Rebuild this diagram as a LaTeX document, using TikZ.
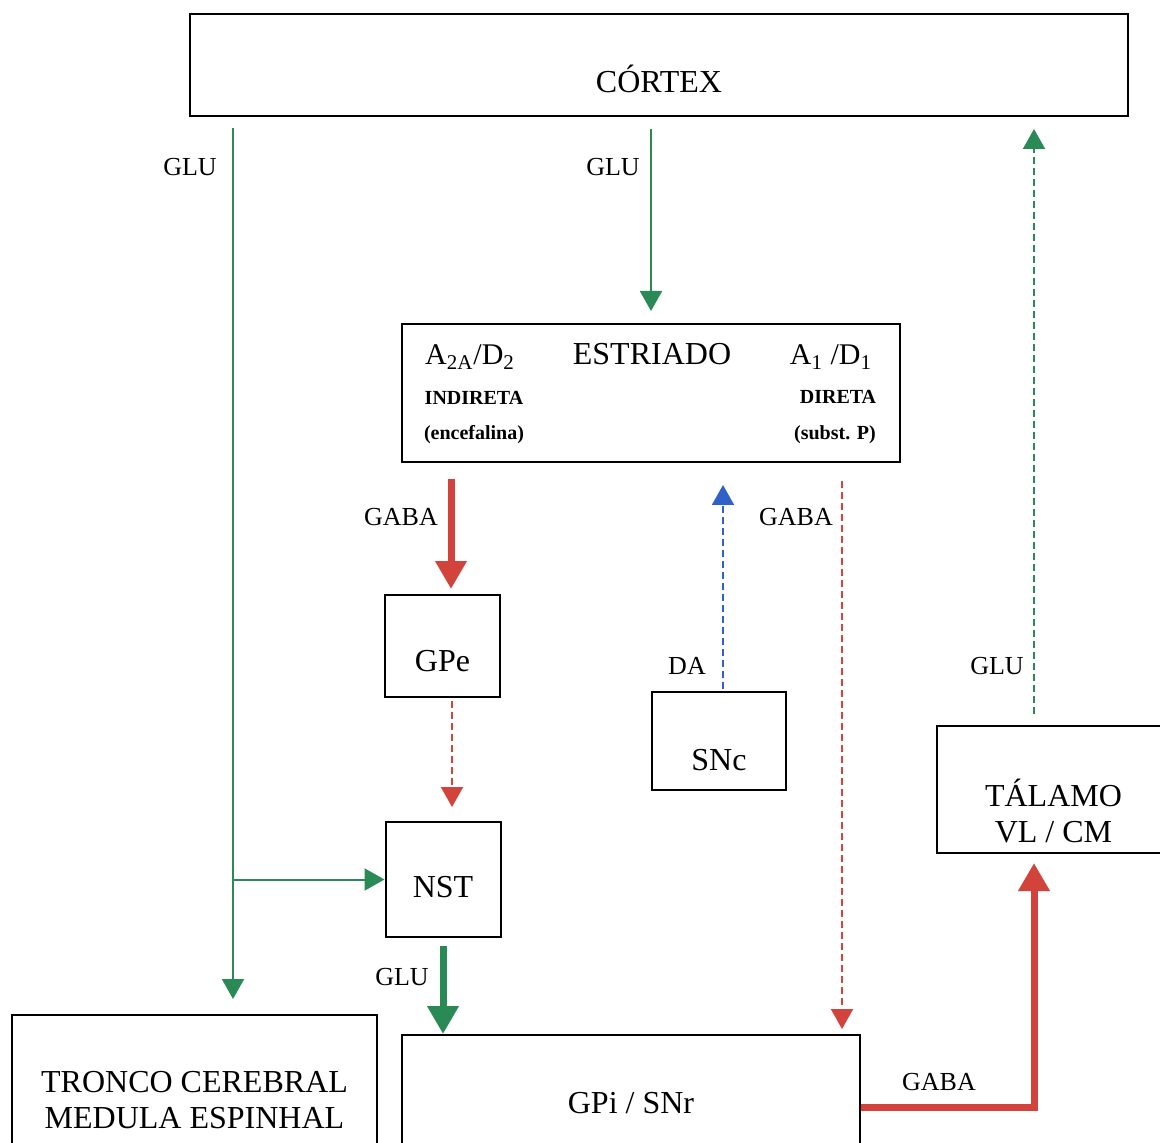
\documentclass[tikz,border=0pt]{standalone}
\usepackage{fontspec}
\setmainfont{Liberation Serif}
\usepackage{xcolor}
\definecolor{glugreen}{HTML}{2A8A55}
\definecolor{gabared}{HTML}{D2443B}
\definecolor{dablue}{HTML}{2F62C8}
\usepackage{tikz}
\usetikzlibrary{arrows.meta,positioning}

\begin{document}
\begin{tikzpicture}[x=0.5pt,y=-0.5pt,
  box/.style={draw,line width=1pt,inner sep=0pt},
  boxtxt/.style={font=\fontsize{16}{18}\selectfont,align=center,inner sep=0pt},
  subtxt/.style={font=\fontsize{10}{12}\selectfont\bfseries,inner sep=0pt},
  lbl/.style={font=\fontsize{13}{15}\selectfont,inner sep=0pt},
  thinarr/.style={line width=1pt,-{Triangle[width=11pt,length=10pt]}},
  thickarr/.style={line width=3.5pt,-{Triangle[width=15pt,length=14pt]}},
  dashline/.style={dash pattern=on 3.5pt off 2pt}]
\useasboundingbox (0,0) rectangle (1160,1143);
\clip (0,0) rectangle (1160,1143);

% boxes
\node[box,minimum width=469pt,minimum height=51pt,
  label={[boxtxt,yshift=-7pt]center:CÓRTEX}] (cortex) at (659,65) {};
\node[box,minimum width=249pt,minimum height=69pt] (estr) at (651,393) {};
\node[boxtxt] (estrtitle) at (652,354) {ESTRIADO};
\node[boxtxt,font=\fontsize{15}{17}\selectfont] (a2a) at (470,357) {A\textsubscript{2A}/D\textsubscript{2}};
\node[subtxt] (indireta) at (474,398) {INDIRETA};
\node[subtxt] (encef) at (474,435) {(encefalina)};
\node[boxtxt,font=\fontsize{15}{17}\selectfont] (a1) at (831,357) {A\textsubscript{1} /D\textsubscript{1}};
\node[subtxt] (direta) at (838,397) {DIRETA};
\node[subtxt] (subst) at (835,435) {(subst. P)};

\node[box,minimum width=57.5pt,minimum height=51pt,
  label={[boxtxt,yshift=-7.5pt]center:GPe}] (gpe) at (442.5,646) {};
\node[box,minimum width=57.5pt,minimum height=57.5pt,
  label={[boxtxt,yshift=-3.75pt]center:NST}] (nst) at (443,879.5) {};
\node[box,minimum width=67pt,minimum height=49pt,
  label={[boxtxt,yshift=-9.5pt]center:SNc}] (snc) at (719,741) {};
\node[box,minimum width=116.5pt,minimum height=63.5pt,
  label={[boxtxt,yshift=-10.75pt]center:TÁLAMO\\VL / CM}] (talamo) at (1053.5,789.5) {};
\node[box,minimum width=229pt,minimum height=70pt,
  label={[boxtxt,yshift=1pt]center:GPi / SNr}] (gpi) at (631,1105) {};
\node[box,minimum width=182.5pt,minimum height=80pt,
  label={[boxtxt,yshift=-2.5pt]center:TRONCO CEREBRAL\\MEDULA ESPINHAL}] (tronco) at (194.5,1095) {};

% connectors
\coordinate (gluL) at (233,128);
\draw[thinarr,glugreen,shorten >=7.5pt] (gluL) -- (gluL |- tronco.north);
\draw[thinarr,glugreen] (gluL |- nst.west) -- (nst.west);
\draw[thinarr,glugreen,shorten <=6pt,shorten >=6pt] (cortex.south -| estr.north) -- (estr.north);
\draw[thickarr,gabared,shorten <=8pt,shorten >=2.5pt] ([xshift=4.25pt]gpe.north |- estr.south) -- ([xshift=4.25pt]gpe.north);
\draw[thinarr,gabared,dashline,shorten <=1.5pt,shorten >=7pt] ([xshift=4.75pt]gpe.south) -- ([xshift=4.75pt]gpe.south |- nst.north);
\draw[thickarr,glugreen,shorten <=4pt] (nst.south) -- (nst.south |- gpi.north);
\draw[thinarr,dablue,dashline,shorten <=1pt,shorten >=11pt] ([xshift=2pt]snc.north) -- ([xshift=2pt]snc.north |- estr.south);
\draw[thinarr,gabared,dashline,shorten <=9pt,shorten >=2.5pt] ([xshift=-29.5pt]estr.south east) -- ([xshift=-29.5pt]estr.south east |- gpi.north);
\draw[thinarr,glugreen,dashline,shorten <=5.5pt,shorten >=6pt] ([xshift=-9.75pt]talamo.north) -- ([xshift=-9.75pt]talamo.north |- cortex.south);
\draw[thickarr,gabared,shorten >=4.5pt] ([yshift=-1pt]gpi.east) -| ([xshift=-9.75pt]talamo.south);

% labels
\node[lbl] (glu1) at (190,167) {GLU};
\node[lbl] (glu2) at (613,167) {GLU};
\node[lbl] (gaba1) at (401,517) {GABA};
\node[lbl] (gaba2) at (796,517) {GABA};
\node[lbl] (da) at (687,666) {DA};
\node[lbl] (glu3) at (997,666) {GLU};
\node[lbl] (glu4) at (402,977) {GLU};
\node[lbl] (gaba3) at (939,1082) {GABA};
\end{tikzpicture}
\end{document}
